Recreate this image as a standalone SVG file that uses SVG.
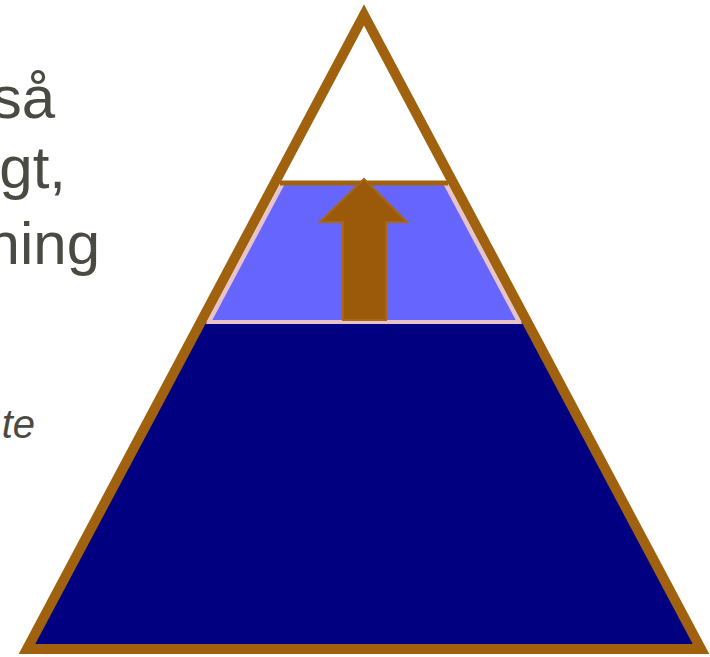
<svg xmlns="http://www.w3.org/2000/svg" width="710" height="657" viewBox="0 0 710 657">
<style>
.txt{font-family:"Liberation Sans",Arial,sans-serif;fill:#4A4A42;text-anchor:end}
.big{font-size:60px}
.it{font-size:40px;font-style:italic}
</style>
<rect width="710" height="657" fill="#FFFFFF"/>
<g id="text">
<text class="txt big" x="55" y="118">så</text>
<text class="txt big" x="66" y="188">gt,</text>
<text class="txt big" x="100" y="264">ning</text>
<text class="txt it" x="35" y="438">te</text>
</g>
<g id="base-layer">
<polygon points="201,322 527,322 701,649 27,649" fill="#000080"/>
</g>
<g id="middle-layer">
<polygon points="283,183 445,183 519,322 209,322" fill="#6666FF" stroke="#E8C2CA" stroke-width="4" stroke-linejoin="miter"/>
<line x1="280" y1="183" x2="448" y2="183" stroke="#A0620F" stroke-width="5"/>
</g>
<g id="pyramid">
<polygon points="364,15 701,649 27,649" fill="none" stroke="#A0620F" stroke-width="10" stroke-linejoin="miter" stroke-miterlimit="10"/>
</g>
<g id="connectors">
<polygon points="364,179 407,222 386,222 386,320 343,320 343,222 320,222" fill="#9A5A0A" stroke="#A66614" stroke-width="2"/>
</g>
</svg>
